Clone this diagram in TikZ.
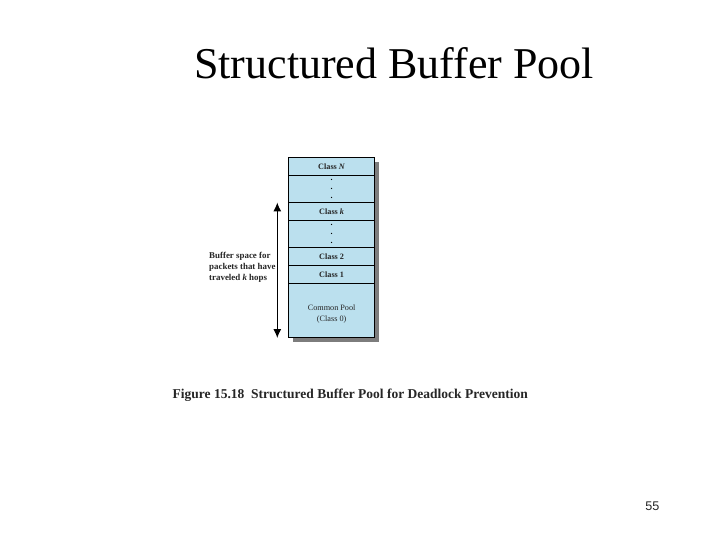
\documentclass[tikz,border=0pt]{standalone}
\usepackage{fontspec}
\setmainfont{Liberation Serif}
\newfontfamily\pagefont{Liberation Sans}
\usetikzlibrary{arrows.meta}
\definecolor{poolblue}{RGB}{187,224,238}
\definecolor{poolshadow}{RGB}{125,125,125}
\tikzset{
  x=1pt,y=-1pt,
  cell/.style={draw=black,line width=0.7pt,fill=poolblue,minimum width=86pt,inner sep=0pt,anchor=north west,font=\fontsize{8.2}{10}\selectfont\bfseries,text=black!85,align=center},
  dotstack/.style={font=\fontsize{8.2}{9}\selectfont\bfseries,align=center,inner sep=0pt},
  sidelabel/.style={font=\fontsize{8.9}{11}\selectfont\bfseries,align=left,anchor=west,inner sep=0pt,text=black!85},
}
\begin{document}
\begin{tikzpicture}
\useasboundingbox (0,0) rectangle (720,540);
\fill[white] (0,0) rectangle (720,540);
\node[anchor=base west,inner sep=0pt,font=\fontsize{44}{44}\selectfont] (title) at (194,79) {Structured Buffer Pool};
\fill[poolshadow] (293,162) rectangle (379,342);
\node[cell,minimum height=18pt] (cn) at (288.3,157.3) {Class \textit{N}};
\node[cell,minimum height=27pt] (d1) at (288.3,175.3) {};
\node[cell,minimum height=18pt] (ck) at (288.3,202.3) {Class \textit{k}};
\node[cell,minimum height=27pt] (d2) at (288.3,220.3) {};
\node[cell,minimum height=18pt] (c2) at (288.3,247.3) {Class 2};
\node[cell,minimum height=18pt] (c1) at (288.3,265.3) {Class 1};
\node[cell,minimum height=54pt,font=\fontsize{8.2}{11}\selectfont] (c0) at (288.3,283.3) {\\[1pt]Common Pool\\(Class 0)};
\node[dotstack] at (d1.center) {.\\.\\.};
\node[dotstack] at (d2.center) {.\\.\\.};
\coordinate (top) at (277.3,202.5);
\coordinate (bot) at (277.3,338);
\draw[{Latex[length=9pt,width=8pt]}-{Latex[length=9pt,width=8pt]},line width=1.1pt] (top) -- (bot);
\node[sidelabel] (lab) at (209,267) {Buffer space for\\packets that have\\traveled \textit{k} hops};
\node[anchor=base west,inner sep=0pt,font=\fontsize{13.5}{14}\selectfont\bfseries,text=black!85] (cap) at (172.5,398) {Figure 15.18\hspace{0.5em}Structured Buffer Pool for Deadlock Prevention};
\node[anchor=base east,inner sep=0pt,font=\pagefont\fontsize{12.6}{13}\selectfont,text=black!85] (pg) at (659.5,510) {55};
\end{tikzpicture}
\end{document}
